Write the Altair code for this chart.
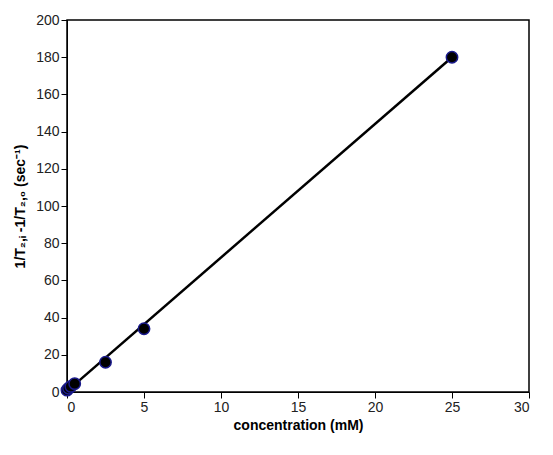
import altair as alt
import pandas as pd

conc = [0.0, 0.1, 0.25, 0.5, 2.5, 5.0, 25.0]
rate = [1.0, 2.0, 3.0, 4.5, 16.0, 34.0, 180.0]
fit_x = [0.0, 25.0]
fit_y = [0.5, 180.0]

df = pd.DataFrame({"x": conc, "y": rate})
fit = pd.DataFrame({"x": fit_x, "y": fit_y})

xs = alt.Scale(domain=[0, 30], nice=False)
ys = alt.Scale(domain=[0, 200], nice=False)
xa = alt.Axis(values=list(range(0, 31, 5)), title="concentration (mM)", grid=False, labelOverlap=False,
              labelFont="Liberation Sans", labelFontSize=14, labelColor="#222",
              titleFont="Liberation Sans", titleFontSize=14, titleFontWeight="bold",
              domainColor="black", tickColor="black", tickSize=6, labelPadding=2, titleColor="black")
ya = alt.Axis(values=list(range(0, 201, 20)), title="1/T₂,ᵢ -1/T₂,₀ (sec⁻¹)", grid=False, labelOverlap=False,
              labelFont="Liberation Sans", labelFontSize=14, labelColor="#222",
              titleFont="Liberation Sans", titleFontSize=14, titleFontWeight="bold",
              domainColor="black", tickColor="black", tickSize=6, titlePadding=8, titleColor="black")

line = alt.Chart(fit).mark_line(color="black", strokeWidth=2.5).encode(
    x=alt.X("x:Q", scale=xs, axis=xa), y=alt.Y("y:Q", scale=ys, axis=ya))
pts = alt.Chart(df).mark_circle(size=130, color="black", stroke="#1a1a8c", strokeWidth=1.5, opacity=1).encode(
    x=alt.X("x:Q", scale=xs, axis=xa), y=alt.Y("y:Q", scale=ys, axis=ya))

chart = (line + pts).properties(width=462, height=372, background="white").configure_view(
    stroke="black", strokeWidth=1.5)
chart.save("out.html", embed_options={"renderer": "svg", "actions": False})
